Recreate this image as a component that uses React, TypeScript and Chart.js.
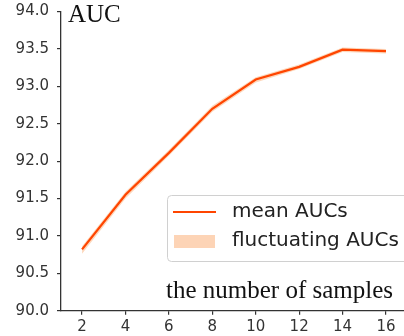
import React, { useEffect, useRef } from "react";
import { Chart, registerables } from "chart.js";

Chart.register(...registerables);

const xValues = [2, 4, 6, 8, 10, 12, 14, 16];
const meanAUCs = [90.82, 91.55, 92.11, 92.7, 93.09, 93.26, 93.49, 93.47];
const upperAUCs = [90.86, 91.59, 92.15, 92.74, 93.12, 93.29, 93.52, 93.5];
const lowerAUCs = [90.76, 91.5, 92.07, 92.66, 93.05, 93.23, 93.46, 93.44];
const xTicks = [2, 4, 6, 8, 10, 12, 14, 16];
const yTicks = [90.0, 90.5, 91.0, 91.5, 92.0, 92.5, 93.0, 93.5, 94.0];
const legendLabels = ["mean AUCs", "fluctuating AUCs"];
const yTitle = "AUC";
const xTitle = "the number of samples";

const LINE_COLOR = "#ff4500";
const BAND_COLOR = "rgba(252, 175, 120, 0.5)";
const PATCH_COLOR = "#fdd4b6";
const AXIS_COLOR = "#333333";

const overlayPlugin = {
  id: "overlay",
  afterDraw(chart: any) {
    const ctx = chart.ctx as CanvasRenderingContext2D;
    const area = chart.chartArea;
    ctx.save();
    ctx.fillStyle = "#111111";
    ctx.font = '25px "Liberation Serif", serif';
    ctx.textBaseline = "alphabetic";
    ctx.textAlign = "left";
    ctx.fillText(yTitle, area.left + 7, 22);
    ctx.fillText(xTitle, 166, 298);

    const bx = 167.5, by = 195.5, bw = 250, bh = 66, r = 4;
    ctx.beginPath();
    ctx.moveTo(bx + r, by);
    ctx.lineTo(bx + bw - r, by);
    ctx.arcTo(bx + bw, by, bx + bw, by + r, r);
    ctx.lineTo(bx + bw, by + bh - r);
    ctx.arcTo(bx + bw, by + bh, bx + bw - r, by + bh, r);
    ctx.lineTo(bx + r, by + bh);
    ctx.arcTo(bx, by + bh, bx, by + bh - r, r);
    ctx.lineTo(bx, by + r);
    ctx.arcTo(bx, by, bx + r, by, r);
    ctx.closePath();
    ctx.fillStyle = "rgba(255,255,255,0.85)";
    ctx.fill();
    ctx.strokeStyle = "#d0d0d0";
    ctx.lineWidth = 1;
    ctx.stroke();

    ctx.strokeStyle = LINE_COLOR;
    ctx.lineWidth = 2.2;
    ctx.beginPath();
    ctx.moveTo(173, 212);
    ctx.lineTo(216, 212);
    ctx.stroke();
    ctx.fillStyle = PATCH_COLOR;
    ctx.fillRect(174, 235, 41, 13);

    ctx.fillStyle = "#222222";
    ctx.font = '20px "DejaVu Sans", sans-serif';
    ctx.textBaseline = "middle";
    ctx.fillText(legendLabels[0], 232, 212);
    ctx.fillText(legendLabels[1], 232, 241);
    ctx.restore();
  },
};

export default function App() {
  const canvasRef = useRef<HTMLCanvasElement | null>(null);

  useEffect(() => {
    document.body.style.margin = "0";
    const canvas = canvasRef.current;
    if (!canvas) return;
    const toPts = (arr: number[]) => xValues.map((x, i) => ({ x, y: arr[i] }));
    const chart = new Chart(canvas, {
      type: "line",
      data: {
        datasets: [
          { label: "upper", order: 2, data: toPts(upperAUCs), borderWidth: 0, pointRadius: 0, backgroundColor: BAND_COLOR, borderColor: "rgba(0,0,0,0)", fill: "+1", tension: 0 },
          { label: "lower", order: 2, data: toPts(lowerAUCs), borderWidth: 0, pointRadius: 0, borderColor: "rgba(0,0,0,0)", fill: false, tension: 0 },
          { label: legendLabels[0], order: 0, data: toPts(meanAUCs), borderColor: LINE_COLOR, borderWidth: 2.2, pointRadius: 0, fill: false, tension: 0 },
        ],
      },
      options: {
        responsive: false,
        animation: false,
        layout: { padding: { top: 11.5, right: 0, bottom: 0, left: 0 } },
        plugins: { legend: { display: false }, tooltip: { enabled: false } },
        scales: {
          x: {
            type: "linear",
            min: 1.03,
            max: 16.83,
            afterBuildTicks: (scale: any) => { scale.ticks = xTicks.map((v) => ({ value: v })); },
            afterFit: (scale: any) => { scale.height = 25.3; },
            grid: { drawOnChartArea: false, drawTicks: true, tickLength: 4, color: AXIS_COLOR, lineWidth: 1.2 },
            border: { display: true, color: AXIS_COLOR, width: 1.3 },
            ticks: { color: "#333333", font: { family: "DejaVu Sans", size: 15 }, padding: 3, maxRotation: 0, autoSkip: false, callback: (v: any) => String(v) },
          },
          y: {
            type: "linear",
            min: 90,
            max: 94,
            afterBuildTicks: (scale: any) => { scale.ticks = yTicks.map((v) => ({ value: v })); },
            afterFit: (scale: any) => {
              scale.width = 61;
              scale.paddingTop = 0;
              scale.paddingBottom = 0;
            },
            grid: { drawOnChartArea: false, drawTicks: true, tickLength: 4, color: AXIS_COLOR, lineWidth: 1.2 },
            border: { display: true, color: AXIS_COLOR, width: 1.3 },
            ticks: { color: "#333333", font: { family: "DejaVu Sans", size: 15 }, padding: 8, autoSkip: false, callback: (v: any) => Number(v).toFixed(1) },
          },
        },
      },
      plugins: [overlayPlugin],
    });
    return () => chart.destroy();
  }, []);

  return (
    <div style={{ width: 404, height: 336, background: "#ffffff" }}>
      <canvas ref={canvasRef} width={404} height={336} style={{ display: "block", width: 404, height: 336 }} />
    </div>
  );
}
